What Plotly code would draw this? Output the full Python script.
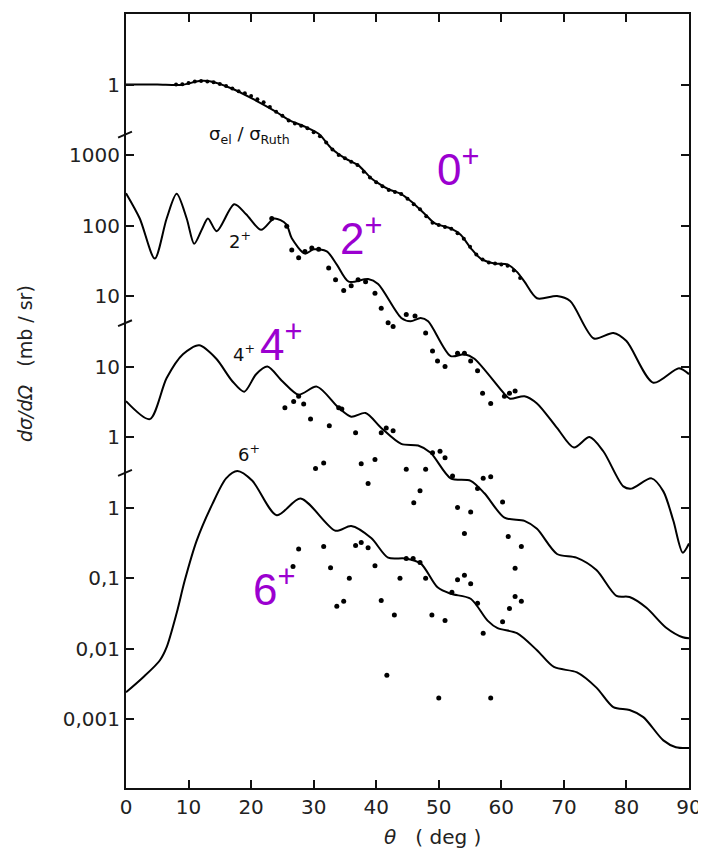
import math
import numpy as np
import plotly.graph_objects as go

# ---------------- data ----------------
# 0+ : sigma_el / sigma_Ruth (ratio)
theta_0 = [0, 5, 9, 11.7, 13.8, 17, 20.2, 24, 26, 28.7, 30.8, 32.9, 35.1, 37.1, 39.2, 40.3, 41.9,
           44.0, 45.6, 47.8, 49.4, 51.9, 53.5, 55.1, 56.7, 58.9, 61.0, 62.5, 63.7, 65.7, 68.9,
           71.0, 74.8, 77.9, 80.0, 84.3, 88.4, 90.0]
ratio_0 = [1.0, 1.0, 0.99, 1.12, 1.096, 0.87, 0.63, 0.41, 0.316, 0.25, 0.2, 0.123, 0.089, 0.072,
           0.047, 0.04, 0.033, 0.028, 0.022, 0.0145, 0.0107, 0.0091, 0.0074, 0.0048, 0.0034,
           0.0029, 0.0028, 0.0022, 0.0016, 0.00093, 0.001, 0.00085, 0.00025, 0.0003, 0.00023,
           5.9e-5, 9.5e-5, 7.8e-5]
theta_0_exp = [8, 9, 10, 11, 12, 13, 14, 15, 16, 17, 18, 19, 20, 21, 22, 23, 24, 25, 26, 27, 28,
               29, 30, 31, 32, 33, 34, 35, 36, 37, 38, 39, 40, 41, 42, 43, 44, 45, 46, 47, 48, 49,
               50, 51, 52, 53, 54, 55, 56, 57, 58, 59, 60, 61, 62, 63]
ratio_0_exp = [1.0, 1.01, 1.05, 1.1, 1.12, 1.1, 1.08, 1.02, 0.95, 0.88, 0.8, 0.75, 0.69, 0.62,
               0.56, 0.48, 0.41, 0.36, 0.31, 0.28, 0.26, 0.24, 0.21, 0.185, 0.15, 0.12, 0.1, 0.09,
               0.08, 0.072, 0.058, 0.048, 0.041, 0.036, 0.032, 0.03, 0.028, 0.024, 0.02, 0.017,
               0.0135, 0.011, 0.0102, 0.0095, 0.009, 0.0078, 0.0065, 0.005, 0.0039, 0.0033,
               0.003, 0.0029, 0.0028, 0.0027, 0.0023, 0.0018]

# 2+ : d sigma / d Omega (mb/sr)
theta_2 = [0, 2.2, 4.6, 6.5, 8.1, 9.7, 10.9, 12.2, 13.1, 14.5, 17.3, 19.2, 21.6, 23.7, 25.6, 26.5,
           28.6, 30, 32.1, 33.7, 35.6, 38.7, 40.3, 44, 45.5, 47.1, 48.3, 51.9, 54.1, 55.7, 60.5,
           61.4, 63.7, 65.7, 68.9, 71.6, 74.1, 76.3, 79.5, 80.8, 84, 85.9, 87.5, 89, 90]
dsig_2 = [288, 126, 34, 126, 282, 126, 55, 91, 126, 83, 200, 145, 87, 126, 105, 66, 40, 46, 43,
          28, 16, 17.4, 14.8, 4.9, 4.4, 4.9, 4.4, 1.41, 1.5, 1.29, 0.41, 0.35, 0.38, 0.30, 0.135,
          0.071, 0.1, 0.063, 0.02, 0.0186, 0.026, 0.017, 0.0065, 0.0023, 0.0031]
theta_2_exp = [23.3, 25.7, 26.5, 27.6, 28.6, 29.7, 30.8, 32.4, 33.5, 34.8, 36, 37.1, 38.3, 39.8,
               40.8, 41.9, 42.7, 44.8, 46.2, 47.9, 49, 49.8, 51, 53, 54.1, 55.1, 56.2, 57, 58.3,
               60.5, 61.3, 62.2]
dsig_2_exp = [126, 98, 45, 35, 43, 48, 46, 25, 17, 12, 14, 17, 16, 11, 6.7, 4.2, 3.7, 5.5, 5.2,
              3.0, 1.66, 1.2, 1.0, 1.55, 1.55, 1.2, 0.87, 0.42, 0.3, 0.38, 0.42, 0.45]

# 4+
theta_4 = [0, 3.8, 6.5, 9.1, 11.7, 14.4, 17, 18.9, 20.8, 22.6, 25, 27.6, 30.5, 34, 36, 38.3, 40.8,
           44, 46.7, 48.7, 51.9, 55.1, 57.3, 60.5, 63.7, 65.7, 68.9, 72, 75.2, 78.4, 80.5, 83.2,
           86.3, 89, 90]
dsig_4 = [3.24, 1.8, 6.9, 15, 20, 13, 6.2, 4.4, 7.8, 10, 6.2, 4.0, 5.2, 2.6, 1.95, 2.2, 1.35, 0.8,
          0.76, 0.6, 0.26, 0.24, 0.16, 0.072, 0.065, 0.05, 0.022, 0.0195, 0.013, 0.0056, 0.0054,
          0.0038, 0.002, 0.00145, 0.0014]
theta_4_exp = [25.4, 26.8, 27.6, 28.4, 29.5, 30.3, 31.6, 32.5, 34, 34.5, 36.7, 37.6, 38.7, 39.8,
               40.8, 41.6, 42.7, 44.8, 46, 47, 47.9, 49, 50.2, 51, 52.2, 53, 54.1, 55.1, 56.2,
               57.1, 58.3, 60.2, 61.1, 63.2]
dsig_4_exp = [2.6, 3.2, 3.8, 2.95, 1.8, 0.36, 0.43, 1.45, 2.6, 2.5, 1.15, 0.42, 0.22, 0.48, 1.15,
              1.35, 1.23, 0.35, 0.117, 0.174, 0.35, 0.6, 0.63, 0.51, 0.28, 0.1, 0.043, 0.087,
              0.186, 0.26, 0.275, 0.12, 0.039, 0.028]

# 6+
theta_6 = [0, 2.7, 5.4, 6.5, 8.1, 9.4, 11.3, 13.8, 16, 17.8, 20.2, 24.1, 27.9, 33.5, 36, 39.2,
           41.9, 44.6, 47.1, 49.8, 51.9, 55.1, 57.8, 59.4, 62.5, 65.7, 68.4, 72.1, 75.2, 77.9,
           80.5, 82.7, 85.9, 87.9, 90]
dsig_6 = [0.0024, 0.0039, 0.0068, 0.0105, 0.032, 0.093, 0.34, 1.12, 2.6, 3.3, 2.4, 0.78, 1.35,
          0.47, 0.55, 0.37, 0.195, 0.19, 0.162, 0.074, 0.06, 0.051, 0.025, 0.0195, 0.0166,
          0.0095, 0.0055, 0.0046, 0.0028, 0.00148, 0.00135, 0.00107, 0.0005, 0.0004, 0.00039]
theta_6_exp = [26.7, 27.6, 31.6, 32.7, 35.7, 33.7, 34.8, 36.7, 37.6, 38.7, 39.8, 40.8, 42.9, 41.7,
               43.8, 44.8, 45.9, 47, 47.9, 48.9, 51, 50, 52.1, 53, 54.1, 55.1, 56.2, 57.1, 58.3,
               60.2, 61.3, 62.2, 62.2, 63.2]
dsig_6_exp = [0.146, 0.26, 0.28, 0.14, 0.1, 0.04, 0.047, 0.29, 0.32, 0.27, 0.15, 0.048, 0.03,
              0.0042, 0.1, 0.19, 0.19, 0.166, 0.1, 0.03, 0.025, 0.002, 0.063, 0.095, 0.11, 0.083,
              0.044, 0.0165, 0.002, 0.024, 0.037, 0.055, 0.138, 0.047]

# vertical offsets of the stacked panels (decades)
offset = {"0": 1e6, "2": 100.0, "4": 10.0, "6": 1.0}

tick_vals = [1e-3, 1e-2, 1e-1, 1, 10, 100, 1e3, 1e4, 1e5, 1e6]
tick_text = ["0,001", "0,01", "0,1", "1", "1", "10", "10", "100", "1000", "1"]
x_ticks = [0, 10, 20, 30, 40, 50, 60, 70, 80, 90]

# ---------------- figure ----------------
fig = go.Figure()

def curve(th, vals, key):
    fig.add_trace(go.Scatter(x=th, y=np.array(vals) * offset[key], mode="lines",
                             line=dict(color="black", width=2, shape="spline", smoothing=0.8),
                             hoverinfo="skip", showlegend=False))

def dots(th, vals, key, size=5):
    fig.add_trace(go.Scatter(x=th, y=np.array(vals) * offset[key], mode="markers",
                             marker=dict(color="black", size=size),
                             hoverinfo="skip", showlegend=False))

curve(theta_0, ratio_0, "0")
dots(theta_0_exp, ratio_0_exp, "0", size=4)
curve(theta_2, dsig_2, "2")
dots(theta_2_exp, dsig_2_exp, "2")
curve(theta_4, dsig_4, "4")
dots(theta_4_exp, dsig_4_exp, "4")
curve(theta_6, dsig_6, "6")
dots(theta_6_exp, dsig_6_exp, "6")

tickfont = dict(family="DejaVu Sans", size=20, color="#222")

fig.update_xaxes(range=[0, 90], tickvals=x_ticks, ticks="inside", ticklen=8, tickwidth=1.5,
                 tickcolor="#111", showline=True, linewidth=2, linecolor="#111", mirror="ticks",
                 showgrid=False, zeroline=False, tickfont=tickfont, ticklabeloverflow="allow")
fig.update_yaxes(type="log", range=[-3.976, 7.0], tickvals=tick_vals, ticktext=tick_text,
                 ticks="inside", ticklen=8, tickwidth=1.5, tickcolor="#111", showline=True,
                 linewidth=2, linecolor="#111", mirror="ticks", showgrid=False, zeroline=False,
                 tickfont=tickfont)

ann = []
bf = dict(family="DejaVu Sans", size=18, color="#111")
# black curve labels (log10 coordinates on the log axis)
ann.append(dict(x=19.7, y=5.29, text="σ<sub>el</sub> / σ<sub>Ruth</sub>", font=bf))
ann.append(dict(x=18.3, y=3.80, text="2<sup>+</sup>", font=bf))
ann.append(dict(x=18.9, y=2.19, text="4<sup>+</sup>", font=bf))
ann.append(dict(x=19.7, y=0.78, text="6<sup>+</sup>", font=bf))
# purple labels
purple = "#9B00D0"
pf = dict(family="Liberation Sans", size=44, color=purple)
ann.append(dict(x=53.0, y=4.84, text="0<sup>+</sup>", font=pf))
ann.append(dict(x=37.6, y=3.86, text="2<sup>+</sup>", font=pf))
ann.append(dict(x=24.7, y=2.36, text="4<sup>+</sup>", font=pf))
ann.append(dict(x=23.6, y=-1.12, text="6<sup>+</sup>", font=pf))
for a in ann:
    a.update(xref="x", yref="y", showarrow=False, xanchor="center", yanchor="middle")

# page is rendered with an 8 px body margin; page-pixel -> paper coordinates
W, H = 698, 843
l, r, t, b = 118, 12, 4, 63
pw, ph = W - l - r, H - t - b


def px(X):
    return (X - 126) / pw


def py(Y):
    return (788 - Y) / ph


ann.append(dict(x=px(24), y=py(362), xref="paper", yref="paper",
                text="<i>dσ/dΩ</i>   (mb / sr)", textangle=-90, showarrow=False,
                xanchor="center", yanchor="middle",
                font=dict(family="DejaVu Sans", size=19, color="#222")))
ann.append(dict(x=px(435), y=py(837), xref="paper", yref="paper", text="<i>θ</i>   ( deg )",
                showarrow=False, xanchor="center", yanchor="middle",
                font=dict(family="DejaVu Sans", size=20, color="#222")))

# axis-break marks on the left axis
shapes = []
for ypix in [133, 322, 472]:
    yp = py(ypix)
    shapes.append(dict(type="line", xref="paper", yref="paper", x0=-8 / pw, x1=6 / pw,
                       y0=yp - 3 / ph, y1=yp + 3 / ph, line=dict(color="#111", width=2)))

fig.update_layout(width=W, height=H, margin=dict(l=l, r=r, t=t, b=b),
                  plot_bgcolor="white", paper_bgcolor="white",
                  annotations=ann, shapes=shapes, showlegend=False)

fig.write_html("out.html")
